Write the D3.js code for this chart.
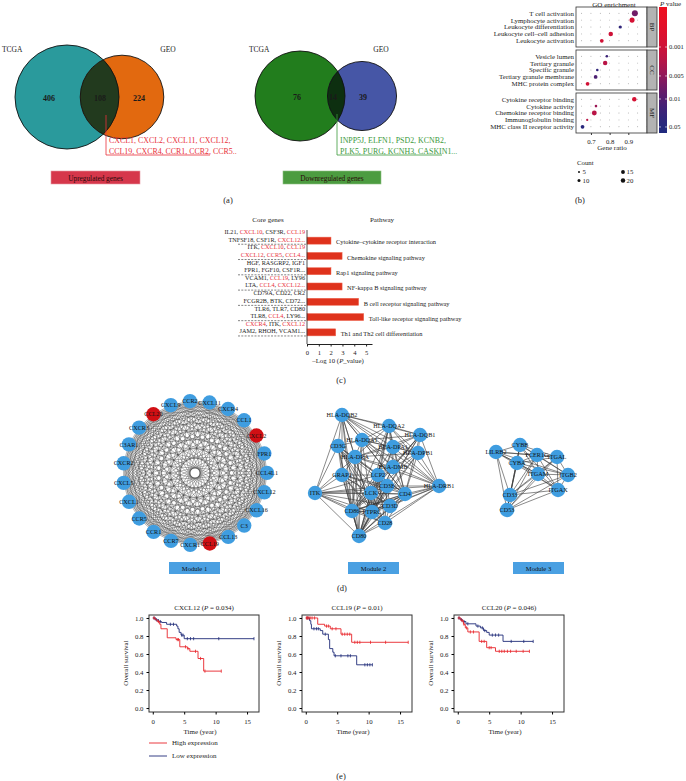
<!DOCTYPE html>
<html lang="en">
<head>
<meta charset="UTF-8">
<title>Chemokine genes figure</title>
<style>
  body { margin: 0; background: #fff; }
  text { font-family: "Liberation Serif", "DejaVu Serif", serif; fill: #222; }
</style>
</head>
<body>
<div id="fig"></div>
<script src="https://d3js.org/d3.v7.min.js"></script>
<script>
// ---------- data ----------
var vennSets = ["TCGA", "GEO"];
var upCounts = [406, 108, 224];
var downCounts = [76, 14, 39];
var upGenes = ["CXCL1, CXCL2, CXCL11, CXCL12,", "CCL19, CXCR4, CCR1, CCR2, CCR5.."];
var downGenes = ["INPP5J, ELFN1, PSD2, KCNB2,", "PLK5, PURG, KCNH3, CASKIN1..."];

var goCategories = ["BP", "CC", "MF"];
var goTerms = ["T cell activation", "Lymphocyte activation", "Leukocyte differentiation",
  "Leukocyte cell\u2013cell adhesion", "Leukocyte activation",
  "Vesicle lumen", "Tertiary granule", "Specific granule", "Tertiary granule membrane", "MHC protein complex",
  "Cytokine receptor binding", "Cytokine activity", "Chemokine receptor binding", "Immunoglobulin binding",
  "MHC class II receptor activity"];
var goCat = ["BP","BP","BP","BP","BP","CC","CC","CC","CC","CC","MF","MF","MF","MF","MF"];
var goRatio = [0.935, 0.92, 0.857, 0.806, 0.758, 0.785, 0.776, 0.734, 0.725, 0.682, 0.932, 0.727, 0.718, 0.68, 0.655];
var goCount = [20, 15, 7, 12, 9, 5, 12, 5, 9, 9, 12, 5, 14, 4, 9];
var goP = [0.007, 0.0008, 0.03, 0.001, 0.0009, 0.02, 0.002, 0.03, 0.012, 0.0009, 0.0008, 0.004, 0.002, 0.002, 0.045];
var pTicks = [0.001, 0.005, 0.01, 0.05];
var countTicks = [5, 10, 15, 20];

var pathways = ["Cytokine\u2013cytokine receptor interaction", "Chemokine signaling pathway",
  "Rap1 signaling pathway", "NF-kappa B signaling pathway", "B cell receptor signaling pathway",
  "Toll-like receptor signaling pathway", "Th1 and Th2 cell differentiation"];
var pathwayLogP = [2.03, 2.97, 2.03, 2.97, 4.37, 4.8, 2.43];
var coreGenes = [
  ["IL21, CXCL10, CSF3R, CCL19", "TNFSF18, CSF1R, CXCL12..."],
  ["ITK, CXCL10, CCL19", "CXCL12, CCR5, CCL4..."],
  ["HGF, RASGRP2, IGF1", "FPR1, FGF10, CSF1R..."],
  ["VCAM1, CCL19, LY96", "LTA, CCL4, CXCL12..."],
  ["CD79A, CD22, CR2", "FCGR2B, BTK, CD72..."],
  ["TLR6, TLR7, CD80", "TLR8, CCL4, LY96..."],
  ["CXCR4, ITK, CXCL12", "JAM2, RHOH, VCAM1..."]];
var redGenes = ["CXCL10", "CCL19", "CXCL12", "CCR5", "CCL4", "CXCR4"];

var module1 = ["CCR2", "CXCL11", "CXCR4", "CCL1", "CXCL2", "FPR1", "CCL4L1", "CXCL12", "CXCL16", "C3",
  "CCL13", "CCL19", "CXCR1", "CCR7", "CCR1", "CCR5", "CXCL1", "CXCL5", "CXCR2", "C3AR1", "CXCR3", "CCL20", "CXCL9"];
var hubGenes = ["CXCL2", "CCL19", "CCL20"];
var module2 = ["HLA-DQB2", "HLA-DQA2", "HLA-DQB1", "HLA-DQA1", "CD3G", "HLA-DPA1", "HLA-DPB1", "HLA-DRA",
  "HLA-DMB", "GRAP2", "LCP2", "CD3E", "HLA-DRB1", "ITK", "LCK", "CD4", "CD3D", "CD86", "PTPRC", "CD28", "CD80"];
var module2Cliques = [
  ["HLA-DQB2", "HLA-DQA2", "HLA-DQB1", "HLA-DQA1", "HLA-DPA1", "HLA-DPB1", "HLA-DRA", "HLA-DMB", "HLA-DRB1", "CD4", "CD86", "CD80", "PTPRC"],
  ["CD3G", "CD3E", "CD3D", "LCK", "LCP2", "ITK", "GRAP2", "PTPRC", "CD28", "CD4", "CD80", "CD86"]];
var module2Links = [["ITK", "HLA-DQB2"], ["ITK", "HLA-DRB1"], ["GRAP2", "HLA-DQB2"], ["CD3G", "HLA-DQB2"],
  ["CD3G", "HLA-DQA1"], ["LCP2", "HLA-DQA2"], ["CD3D", "HLA-DRB1"], ["CD28", "HLA-DRB1"], ["GRAP2", "HLA-DRA"],
  ["CD3E", "HLA-DRB1"], ["LCK", "HLA-DQB1"], ["ITK", "HLA-DRA"]];
var module3 = ["LILRB2", "CYBB", "FCER1G", "ITGAL", "CYBA", "ITGAM", "ITGB2", "ITGAX", "CD33", "CD53"];

var survGenes = ["CXCL12", "CCL19", "CCL20"];
var survP = ["0.034", "0.01", "0.046"];
var highSteps = [
  [[0,1],[0.4,0.98],[0.7,0.96],[1.1,0.93],[1.3,0.88],[2.3,0.78],[3.7,0.76],[4.3,0.68],[5.5,0.66],[5.9,0.63],[7.2,0.55],[8.1,0.41],[10.9,0.41]],
  [[0,1],[1.9,0.93],[3.0,0.91],[3.9,0.88],[5.6,0.82],[7.3,0.73],[16.3,0.73]],
  [[0,1],[0.5,0.97],[0.9,0.93],[1.2,0.89],[1.6,0.845],[3.4,0.74],[4.6,0.67],[6.0,0.63],[11.4,0.63]]];
var highCensor = [
  [0.2, 0.9, 3.9, 4.1, 5.2, 5.6, 6.8, 7.6, 8.3, 10.9],
  [0.1, 0.2, 0.35, 0.5, 0.7, 1.0, 1.4, 3.3, 3.6, 4.2, 4.8, 5.8, 6.2, 6.6, 7.0, 7.8, 8.2, 8.6, 10.3, 12.7, 16.3],
  [0.2, 0.7, 1.0, 1.4, 2.0, 2.5, 3.8, 4.2, 5.0, 5.3, 6.6, 7.0, 7.4, 7.9, 8.4, 9.3, 10.4, 11.4]];
var lowSteps = [
  [[0,1],[0.3,0.99],[0.5,0.98],[0.8,0.97],[1.0,0.96],[1.4,0.95],[2.2,0.93],[3.8,0.91],[4.0,0.88],[4.2,0.84],[4.5,0.81],[5.0,0.77],[16.1,0.77]],
  [[0,1],[0.6,0.97],[0.8,0.93],[0.9,0.88],[2.3,0.86],[2.7,0.82],[3.6,0.76],[3.8,0.66],[4.3,0.62],[4.5,0.58],[8.1,0.48],[10.6,0.48]],
  [[0,1],[0.4,0.98],[0.8,0.96],[1.3,0.935],[2.9,0.91],[3.6,0.89],[4.1,0.86],[4.6,0.84],[5.0,0.81],[7.2,0.74],[12.0,0.74]]];
var lowCensor = [
  [0.2, 0.4, 0.6, 0.9, 1.2, 2.8, 3.3, 4.6, 4.8, 5.5, 6.0, 6.5, 10.5, 16.1],
  [0.3, 1.3, 1.7, 2.0, 3.1, 4.7, 5.6, 6.7, 7.1, 9.4, 9.8, 10.2, 10.6],
  [0.2, 0.6, 1.0, 1.6, 3.2, 3.9, 4.3, 5.5, 6.0, 6.5, 8.5, 10.5, 12.0]];

// ---------- layout ----------
var layout2 = [[342,415],[389,426],[420,435],[362,440],[338,446],[393,447],[418,453],[355,457],
  [393,467],[342,475],[378,475],[387,486],[439,486],[315,493],[371,493],[405,494],[390,506],
  [352,511],[372,512],[385,523],[359,536]];
var layout3 = [[496,452],[520,445],[537,455],[557,457],[517,463],[538,474],[568,475],[558,490],[510,495],[507,510]];

var svg = d3.select("#fig").append("svg").attr("width", 686).attr("height", 781);
var RED = "#e8242a", NAVY = "#1f2b78", NODE = "#3f9de0", HUB = "#d10f14";

function panelLabel(x, y, s) {
  svg.append("text").attr("x", x).attr("y", y).attr("text-anchor", "middle")
    .style("font-size", "8.5px").text(s);
}

// ---------- (a) venn diagrams ----------
function drawVenn(o) {
  var g = svg.append("g");
  var r = d3.scaleSqrt().domain([0, o.counts[0] + o.counts[1]]).range([0, o.rMax]);
  var rA = r(o.counts[0] + o.counts[1]), rB = r(o.counts[1] + o.counts[2]);
  g.append("clipPath").attr("id", o.id).append("circle")
    .attr("cx", o.cxA).attr("cy", o.cy).attr("r", rA);
  g.append("circle").attr("cx", o.cxA).attr("cy", o.cy).attr("r", rA).attr("fill", o.colA);
  g.append("circle").attr("cx", o.cxB).attr("cy", o.cy).attr("r", rB).attr("fill", o.colB);
  g.append("circle").attr("cx", o.cxB).attr("cy", o.cy).attr("r", rB).attr("fill", o.colAB)
    .attr("clip-path", "url(#" + o.id + ")");
  [[o.cxA, rA], [o.cxB, rB]].forEach(function(c) {
    g.append("circle").attr("cx", c[0]).attr("cy", o.cy).attr("r", c[1])
      .attr("fill", "none").attr("stroke", "#111").attr("stroke-width", 0.9);
  });
  o.counts.forEach(function(v, i) {
    g.append("text").attr("x", o.numX[i]).attr("y", o.cy + 4).attr("text-anchor", "middle")
      .style("font-size", "8px").style("font-weight", "bold").style("fill", "#1a1a1a").text(v);
  });
  g.append("text").attr("x", o.labA).attr("y", 52).style("font-size", "7.5px").text(vennSets[0]);
  g.append("text").attr("x", o.labB).attr("y", 52).attr("text-anchor", "middle").style("font-size", "7.5px").text(vennSets[1]);
  g.append("path").attr("d", "M" + o.lx + "," + (o.cy + 18) + "V155H" + o.lend)
    .attr("fill", "none").attr("stroke", o.txt).attr("stroke-width", 0.8);
  o.genes.forEach(function(s, i) {
    g.append("text").attr("x", o.lx + 3).attr("y", 143 + i * 10.5).style("font-size", "7.9px")
      .style("fill", o.txt).text(s);
  });
  g.append("rect").attr("x", o.box[0]).attr("y", 171).attr("width", o.box[1]).attr("height", 13)
    .attr("fill", o.boxCol).attr("stroke", o.boxEdge).attr("stroke-width", 0.6);
  g.append("text").attr("x", o.box[0] + o.box[1] / 2).attr("y", 180.5).attr("text-anchor", "middle")
    .style("font-size", "7.3px").style("fill", "#2a0a0a").text(o.boxText);
}

drawVenn({id: "vu", counts: upCounts, rMax: 52, cxA: 67, cxB: 122, cy: 97,
  colA: "#2a9a9c", colB: "#e2690f", colAB: "#223a1e", numX: [49, 100, 139],
  labA: 2, labB: 168, lx: 106, lend: 210, genes: upGenes, txt: "#e8303a",
  box: [51, 89], boxCol: "#d6374b", boxEdge: "#e89aa4", boxText: "Upregulated genes"});
drawVenn({id: "vd", counts: downCounts, rMax: 45, cxA: 300, cxB: 362, cy: 96,
  colA: "#227d1d", colB: "#4656a6", colAB: "#0d2f10", numX: [297, 333, 363],
  labA: 249, labB: 381, lx: 337, lend: 442, genes: downGenes, txt: "#3b993b",
  box: [283, 98], boxCol: "#4c9c40", boxEdge: "#8cc080", boxText: "Downregulated genes"});
panelLabel(228, 203, "(a)");

// ---------- (b) GO dot plot ----------
var gb = svg.append("g");
var goX = d3.scaleLinear().domain([0.62, 1.0]).range([576, 647]);
var panelTop = [7, 50, 93], panelH = 40;
var posP = d3.scaleLinear().domain([-3.7, -3, -2.3, -2, -1.3, -1.1]).range([7, 47, 76, 99, 127, 133]);
var barColor = d3.interpolateRgbBasis(["#ee0f1f", "#e0102c", "#c41340", "#7d1a64", "#3a2278", "#1f2a7e"]);
function pColor(p) { return barColor((posP(Math.log10(p)) - 7) / 126); }
var rCount = d3.scaleSqrt().domain([5, 20]).range([1.3, 3]);

gb.append("text").attr("x", 614).attr("y", 6.5).attr("text-anchor", "middle").style("font-size", "7px").text("GO enrichment");

goCategories.forEach(function(cat, ci) {
  var top = panelTop[ci];
  var terms = goTerms.filter(function(t, i) { return goCat[i] === cat; });
  var y = d3.scalePoint().domain(terms).range([top, top + panelH]).padding(0.9);
  gb.append("rect").attr("x", 576).attr("y", top).attr("width", 71).attr("height", panelH)
    .attr("fill", "#fff").attr("stroke", "#333").attr("stroke-width", 0.8);
  goX.ticks(8).forEach(function(tx) {
    terms.forEach(function(t) {
      gb.append("circle").attr("cx", goX(tx)).attr("cy", y(t)).attr("r", 0.45).attr("fill", "#777");
    });
  });
  gb.append("rect").attr("x", 647).attr("y", top).attr("width", 10).attr("height", panelH)
    .attr("fill", "#b3b3b3").attr("stroke", "#333").attr("stroke-width", 0.8);
  gb.append("text").attr("transform", "translate(649.5," + (top + panelH / 2) + ") rotate(90)")
    .attr("text-anchor", "middle").style("font-size", "7px").text(cat);
  terms.forEach(function(t) {
    var i = goTerms.indexOf(t);
    gb.append("text").attr("x", 574).attr("y", y(t)).attr("dy", "0.35em").attr("text-anchor", "end")
      .style("font-size", "6.9px").text(t);
    gb.append("circle").attr("cx", goX(goRatio[i])).attr("cy", y(t)).attr("r", rCount(goCount[i]))
      .attr("fill", pColor(goP[i]));
  });
});
gb.append("g").attr("transform", "translate(0,133)")
  .call(d3.axisBottom(goX).tickValues([0.7, 0.8, 0.9]).tickFormat(d3.format(".1f")).tickSize(2))
  .call(function(a) {
    a.select(".domain").remove();
    a.selectAll("text").style("font-size", "6.8px").attr("dy", "0.9em");
    a.selectAll("line").attr("stroke", "#333");
  });
gb.append("text").attr("x", 612).attr("y", 150).attr("text-anchor", "middle").style("font-size", "7px").text("Gene ratio");

// colour bar
var grad = svg.append("defs").append("linearGradient").attr("id", "pgrad")
  .attr("x1", 0).attr("x2", 0).attr("y1", 0).attr("y2", 1);
d3.range(0, 1.01, 0.1).forEach(function(t) {
  grad.append("stop").attr("offset", t).attr("stop-color", barColor(t));
});
gb.append("rect").attr("x", 659).attr("y", 7).attr("width", 8).attr("height", 126).attr("fill", "url(#pgrad)");
pTicks.forEach(function(p) {
  var yy = posP(Math.log10(p));
  gb.append("line").attr("x1", 659).attr("x2", 661).attr("y1", yy).attr("y2", yy).attr("stroke", "#fff").attr("stroke-width", 0.6);
  gb.append("line").attr("x1", 665).attr("x2", 667).attr("y1", yy).attr("y2", yy).attr("stroke", "#fff").attr("stroke-width", 0.6);
  gb.append("text").attr("x", 669).attr("y", yy).attr("dy", "0.35em").style("font-size", "6.5px").text(p);
});
var pv = gb.append("text").attr("x", 660).attr("y", 6).style("font-size", "7px");
pv.append("tspan").style("font-style", "italic").text("P");
pv.append("tspan").text(" value");

// count legend
gb.append("text").attr("x", 577).attr("y", 165).style("font-size", "6.8px").text("Count");
countTicks.forEach(function(c, i) {
  var lx = i < 2 ? 579 : 623, ly = i % 2 === 0 ? 172 : 180.5;
  gb.append("circle").attr("cx", lx).attr("cy", ly).attr("r", rCount(c) * 0.75).attr("fill", "#111");
  gb.append("text").attr("x", lx + 3.5).attr("y", ly).attr("dy", "0.35em").style("font-size", "6.8px").text(c);
});
panelLabel(580, 203, "(b)");

// ---------- (c) KEGG bars ----------
var gc = svg.append("g");
var cx = d3.scaleLinear().domain([0, 5.5]).range([307, 372]);
var cy = d3.scaleBand().domain(pathways).range([233, 340]).paddingInner(0.54).paddingOuter(0.27);
gc.append("text").attr("x", 268).attr("y", 222).attr("text-anchor", "middle").style("font-size", "7px").text("Core genes");
gc.append("text").attr("x", 382).attr("y", 222).attr("text-anchor", "middle").style("font-size", "7px").text("Pathway");
gc.selectAll("rect.bar").data(pathways).enter().append("rect").attr("class", "bar")
  .attr("x", cx(0)).attr("y", function(d) { return cy(d); })
  .attr("width", function(d, i) { return cx(pathwayLogP[i]) - cx(0); })
  .attr("height", cy.bandwidth()).attr("fill", "#df321c").attr("stroke", "#ef6a55").attr("stroke-width", 0.5);
pathways.forEach(function(p, i) {
  var mid = cy(p) + cy.bandwidth() / 2;
  gc.append("text").attr("x", cx(pathwayLogP[i]) + 5).attr("y", mid + 1.5).attr("dy", "0.35em")
    .style("font-size", "6.4px").text(p);
  coreGenes[i].forEach(function(line, j) {
    var t = gc.append("text").attr("x", 305).attr("y", mid + 0.9 - (1 - j) * 7.4)
      .attr("text-anchor", "end").style("font-size", "6.2px");
    line.split(", ").forEach(function(tok, k) {
      if (k > 0) t.append("tspan").text(", ");
      var name = tok.replace(/\.+$/, "");
      t.append("tspan").style("fill", redGenes.indexOf(name) >= 0 ? "#e8303a" : "#222").text(tok);
    });
  });
  gc.append("line").attr("x1", 238).attr("x2", 306).attr("y1", mid + 3.6).attr("y2", mid + 3.6)
    .attr("stroke", "#333").attr("stroke-width", 0.6).attr("stroke-dasharray", "2,1.3");
});
gc.append("line").attr("x1", 307).attr("x2", 307).attr("y1", 230).attr("y2", 344).attr("stroke", "#222").attr("stroke-width", 0.8);
gc.append("g").attr("transform", "translate(0,344)")
  .call(d3.axisBottom(cx).tickValues(d3.range(0, 6)).tickFormat(d3.format("d")).tickSize(2.5).tickSizeOuter(0))
  .call(function(a) {
    a.selectAll("text").style("font-size", "6.6px").attr("dy", "0.9em");
    a.selectAll("line,path").attr("stroke", "#222");
  });
var xt = gc.append("text").attr("x", 338).attr("y", 362.5).attr("text-anchor", "middle").style("font-size", "6.8px");
xt.append("tspan").text("\u2013Log 10 (");
xt.append("tspan").style("font-style", "italic").text("P");
xt.append("tspan").text("_value)");
panelLabel(341, 383, "(c)");

// ---------- (d) PPI modules ----------
var gd = svg.append("g");
function drawNodes(names, pos, g) {
  names.forEach(function(n, i) {
    g.append("circle").attr("cx", pos[i][0]).attr("cy", pos[i][1]).attr("r", 7.2)
      .attr("fill", hubGenes.indexOf(n) >= 0 ? HUB : NODE);
  });
  names.forEach(function(n, i) {
    g.append("text").attr("x", pos[i][0]).attr("y", pos[i][1]).attr("dy", "0.35em")
      .attr("text-anchor", "middle").style("font-size", "6.2px").style("fill", "#111").text(n);
  });
}
function drawEdges(pairs, pos, names, g, w, op) {
  pairs.forEach(function(pr) {
    var a = pos[names.indexOf(pr[0])], b = pos[names.indexOf(pr[1])];
    g.append("line").attr("x1", a[0]).attr("y1", a[1]).attr("x2", b[0]).attr("y2", b[1])
      .attr("stroke", "#3a3a3a").attr("stroke-width", w).attr("stroke-opacity", op);
  });
}
function cliquePairs(list) {
  var out = [];
  list.forEach(function(a, i) { list.slice(i + 1).forEach(function(b) { out.push([a, b]); }); });
  return out;
}
// module 1: ring layout
var ang = d3.scaleLinear().domain([0, module1.length]).range([-94, 266]);
var pos1 = module1.map(function(n, i) {
  var a = ang(i) * Math.PI / 180;
  return [195 + 72 * Math.cos(a), 473 + 72 * Math.sin(a)];
});
drawEdges(cliquePairs(module1), pos1, module1, gd, 0.45, 0.85);
drawNodes(module1, pos1, gd);
// module 2
var e2 = [];
module2Cliques.forEach(function(c) { e2 = e2.concat(cliquePairs(c)); });
drawEdges(e2.concat(module2Links), layout2, module2, gd, 0.7, 0.85);
drawNodes(module2, layout2, gd);
// module 3
drawEdges(cliquePairs(module3), layout3, module3, gd, 0.7, 0.85);
drawNodes(module3, layout3, gd);
[["Module 1", 169], ["Module 2", 348], ["Module 3", 513]].forEach(function(m) {
  gd.append("rect").attr("x", m[1]).attr("y", 562).attr("width", 51).attr("height", 12).attr("fill", "#4aa0e2");
  gd.append("text").attr("x", m[1] + 25.5).attr("y", 570.5).attr("text-anchor", "middle")
    .style("font-size", "6.6px").style("fill", "#111").text(m[0]);
});
panelLabel(342, 591, "(d)");

// ---------- (e) survival curves ----------
var lefts = [149, 302, 454];
var sy = d3.scaleLinear().domain([-0.044, 1.033]).range([712, 615]);
function stepAt(steps, t) {
  var v = steps[0][1];
  steps.forEach(function(s) { if (s[0] <= t) v = s[1]; });
  return v;
}
survGenes.forEach(function(gene, k) {
  var g = svg.append("g");
  var sx = d3.scaleLinear().domain([-0.6, 16.9]).range([lefts[k], lefts[k] + 110]);
  var line = d3.line().x(function(d) { return sx(d[0]); }).y(function(d) { return sy(d[1]); }).curve(d3.curveStepAfter);
  g.append("rect").attr("x", lefts[k]).attr("y", 615).attr("width", 110).attr("height", 97)
    .attr("fill", "#fff").attr("stroke", "#333").attr("stroke-width", 1);
  [[lowSteps[k], lowCensor[k], NAVY], [highSteps[k], highCensor[k], RED]].forEach(function(s) {
    g.append("path").attr("d", line(s[0])).attr("fill", "none").attr("stroke", s[2]).attr("stroke-width", 0.9);
    s[1].forEach(function(t) {
      var yy = sy(stepAt(s[0], t));
      g.append("line").attr("x1", sx(t)).attr("x2", sx(t)).attr("y1", yy - 1.6).attr("y2", yy + 1.6)
        .attr("stroke", s[2]).attr("stroke-width", 0.8);
    });
  });
  g.append("g").attr("transform", "translate(0,712)")
    .call(d3.axisBottom(sx).tickValues([0, 5, 10, 15]).tickSize(2.5))
    .call(function(a) { a.select(".domain").remove(); a.selectAll("text").style("font-size", "6.8px").attr("dy", "0.95em"); });
  g.append("g").attr("transform", "translate(" + lefts[k] + ",0)")
    .call(d3.axisLeft(sy).tickValues([0, 0.2, 0.4, 0.6, 0.8, 1]).tickFormat(d3.format(".1f")).tickSize(2.5))
    .call(function(a) { a.select(".domain").remove(); a.selectAll("text").style("font-size", "6.8px"); });
  g.append("text").attr("transform", "translate(" + (lefts[k] - 21) + ",663) rotate(-90)")
    .attr("text-anchor", "middle").style("font-size", "7px").text("Overall survival");
  g.append("text").attr("x", lefts[k] + 51).attr("y", 733.5).attr("text-anchor", "middle")
    .style("font-size", "7px").text("Time (year)");
  var tt = g.append("text").attr("x", lefts[k] + 55).attr("y", 609.5).attr("text-anchor", "middle").style("font-size", "7px");
  tt.append("tspan").text(gene + " (");
  tt.append("tspan").style("font-style", "italic").text("P");
  tt.append("tspan").text(" = " + survP[k] + ")");
});
[["High expression", RED, 743], ["Low expression", NAVY, 756]].forEach(function(l) {
  svg.append("line").attr("x1", 149).attr("x2", 167).attr("y1", l[2]).attr("y2", l[2]).attr("stroke", l[1]).attr("stroke-width", 0.9);
  svg.append("text").attr("x", 172).attr("y", l[2]).attr("dy", "0.35em").style("font-size", "7px").text(l[0]);
});
panelLabel(341, 779, "(e)");
</script>
</body>
</html>
